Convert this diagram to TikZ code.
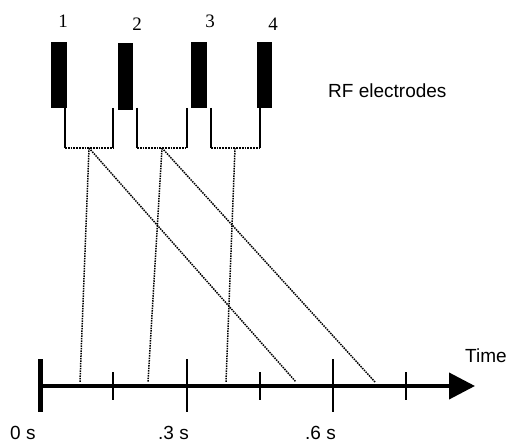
\documentclass[tikz,border=0pt]{standalone}
\usepackage{fontspec}
\setmainfont{Liberation Serif}
\setsansfont{Liberation Sans}
\usetikzlibrary{arrows.meta}

\begin{document}
\begin{tikzpicture}[x=1pt, y=-1pt, line join=round,
    electrode/.style={fill=black, inner sep=0pt, minimum width=16pt, minimum height=66pt},
    wire/.style={line width=1.6pt},
    link/.style={densely dotted, line width=1.5pt},
    num/.style={inner sep=0pt, anchor=base, font=\rmfamily\fontsize{19}{23}\selectfont},
    txt/.style={inner sep=0pt, anchor=base west, font=\sffamily\fontsize{19}{23}\selectfont},
    minortick/.style={line width=2pt},
    majortick/.style={line width=2pt}]

    \useasboundingbox (0,0) rectangle (508,443);

    % Electrodes and their numbers
    \node[electrode] (e1) at (59, 75) {};
    \node[electrode, minimum width=15pt, minimum height=67pt] (e2) at (125.5, 76.5) {};
    \node[electrode] (e3) at (199, 75) {};
    \node[electrode, minimum width=15pt] (e4) at (264.5, 75) {};
    \node[num] (n1) at (63, 28) {1};
    \node[num] (n2) at (137, 31) {2};
    \node[num] (n3) at (210, 28) {3};
    \node[num] (n4) at (273, 31) {4};
    \node[txt] (rf) at (328, 98) {RF electrodes};

    % Wire ends of the three electrode pairs, top (t) and bottom (b)
    \coordinate (a1t) at (65, 108);  \coordinate (a1b) at (65, 148);
    \coordinate (b1t) at (113, 108); \coordinate (b1b) at (113, 148);
    \coordinate (a2t) at (137, 108); \coordinate (a2b) at (137, 148);
    \coordinate (b2t) at (187, 108); \coordinate (b2b) at (187, 148);
    \coordinate (a3t) at (211, 108); \coordinate (a3b) at (211, 148);
    \coordinate (b3t) at (260, 108); \coordinate (b3b) at (260, 148);
    % Midpoints of the pairs
    \coordinate (m1) at (89, 148);
    \coordinate (m2) at (162, 148);
    \coordinate (m3) at (235, 148);

    % Wires
    \draw[wire] (a1t) -- (a1b);  \draw[wire] (b1t) -- (b1b);
    \draw[wire] (a2t) -- (a2b);  \draw[wire] (b2t) -- (b2b);
    \draw[wire] (a3t) -- (a3b);  \draw[wire] (b3t) -- (b3b);
    \draw[link, line width=1.8pt] (a1b) -- (b1b);
    \draw[link, line width=1.8pt] (a2b) -- (b2b);
    \draw[link, line width=1.8pt] (a3b) -- (b3b);

    % Time axis
    \coordinate (O) at (40, 386);
    \coordinate (T) at (475, 386);
    \draw[line width=4pt, -{Triangle[length=26pt, width=26pt]}] (O) -- (T);
    \draw[line width=5pt] (40, 359) -- (40, 412);
    \draw[minortick] (113, 372) -- (113, 400);
    \draw[majortick] (187, 359) -- (187, 412);
    \draw[minortick] (260, 372) -- (260, 400);
    \draw[majortick] (333, 359) -- (333, 412);
    \draw[minortick] (406, 372) -- (406, 400);
    \node[txt] (time) at (465, 362) {Time};
    \node[txt] (s0) at (10, 439) {0 s};
    \node[txt] (s3) at (158, 439) {.3 s};
    \node[txt] (s6) at (305, 439) {.6 s};

    % Arrival points on the axis
    \coordinate (p1) at (80, 382);
    \coordinate (p2) at (148, 382);
    \coordinate (p3) at (226, 382);
    \coordinate (p4) at (296, 382);
    \coordinate (p5) at (375, 382);

    % Dotted links from pairs to the axis
    \draw[link] (m1) -- (p1);
    \draw[link] (m1) -- (p4);
    \draw[link] (m2) -- (p2);
    \draw[link] (m2) -- (p5);
    \draw[link] (m3) -- (p3);

\end{tikzpicture}
\end{document}
